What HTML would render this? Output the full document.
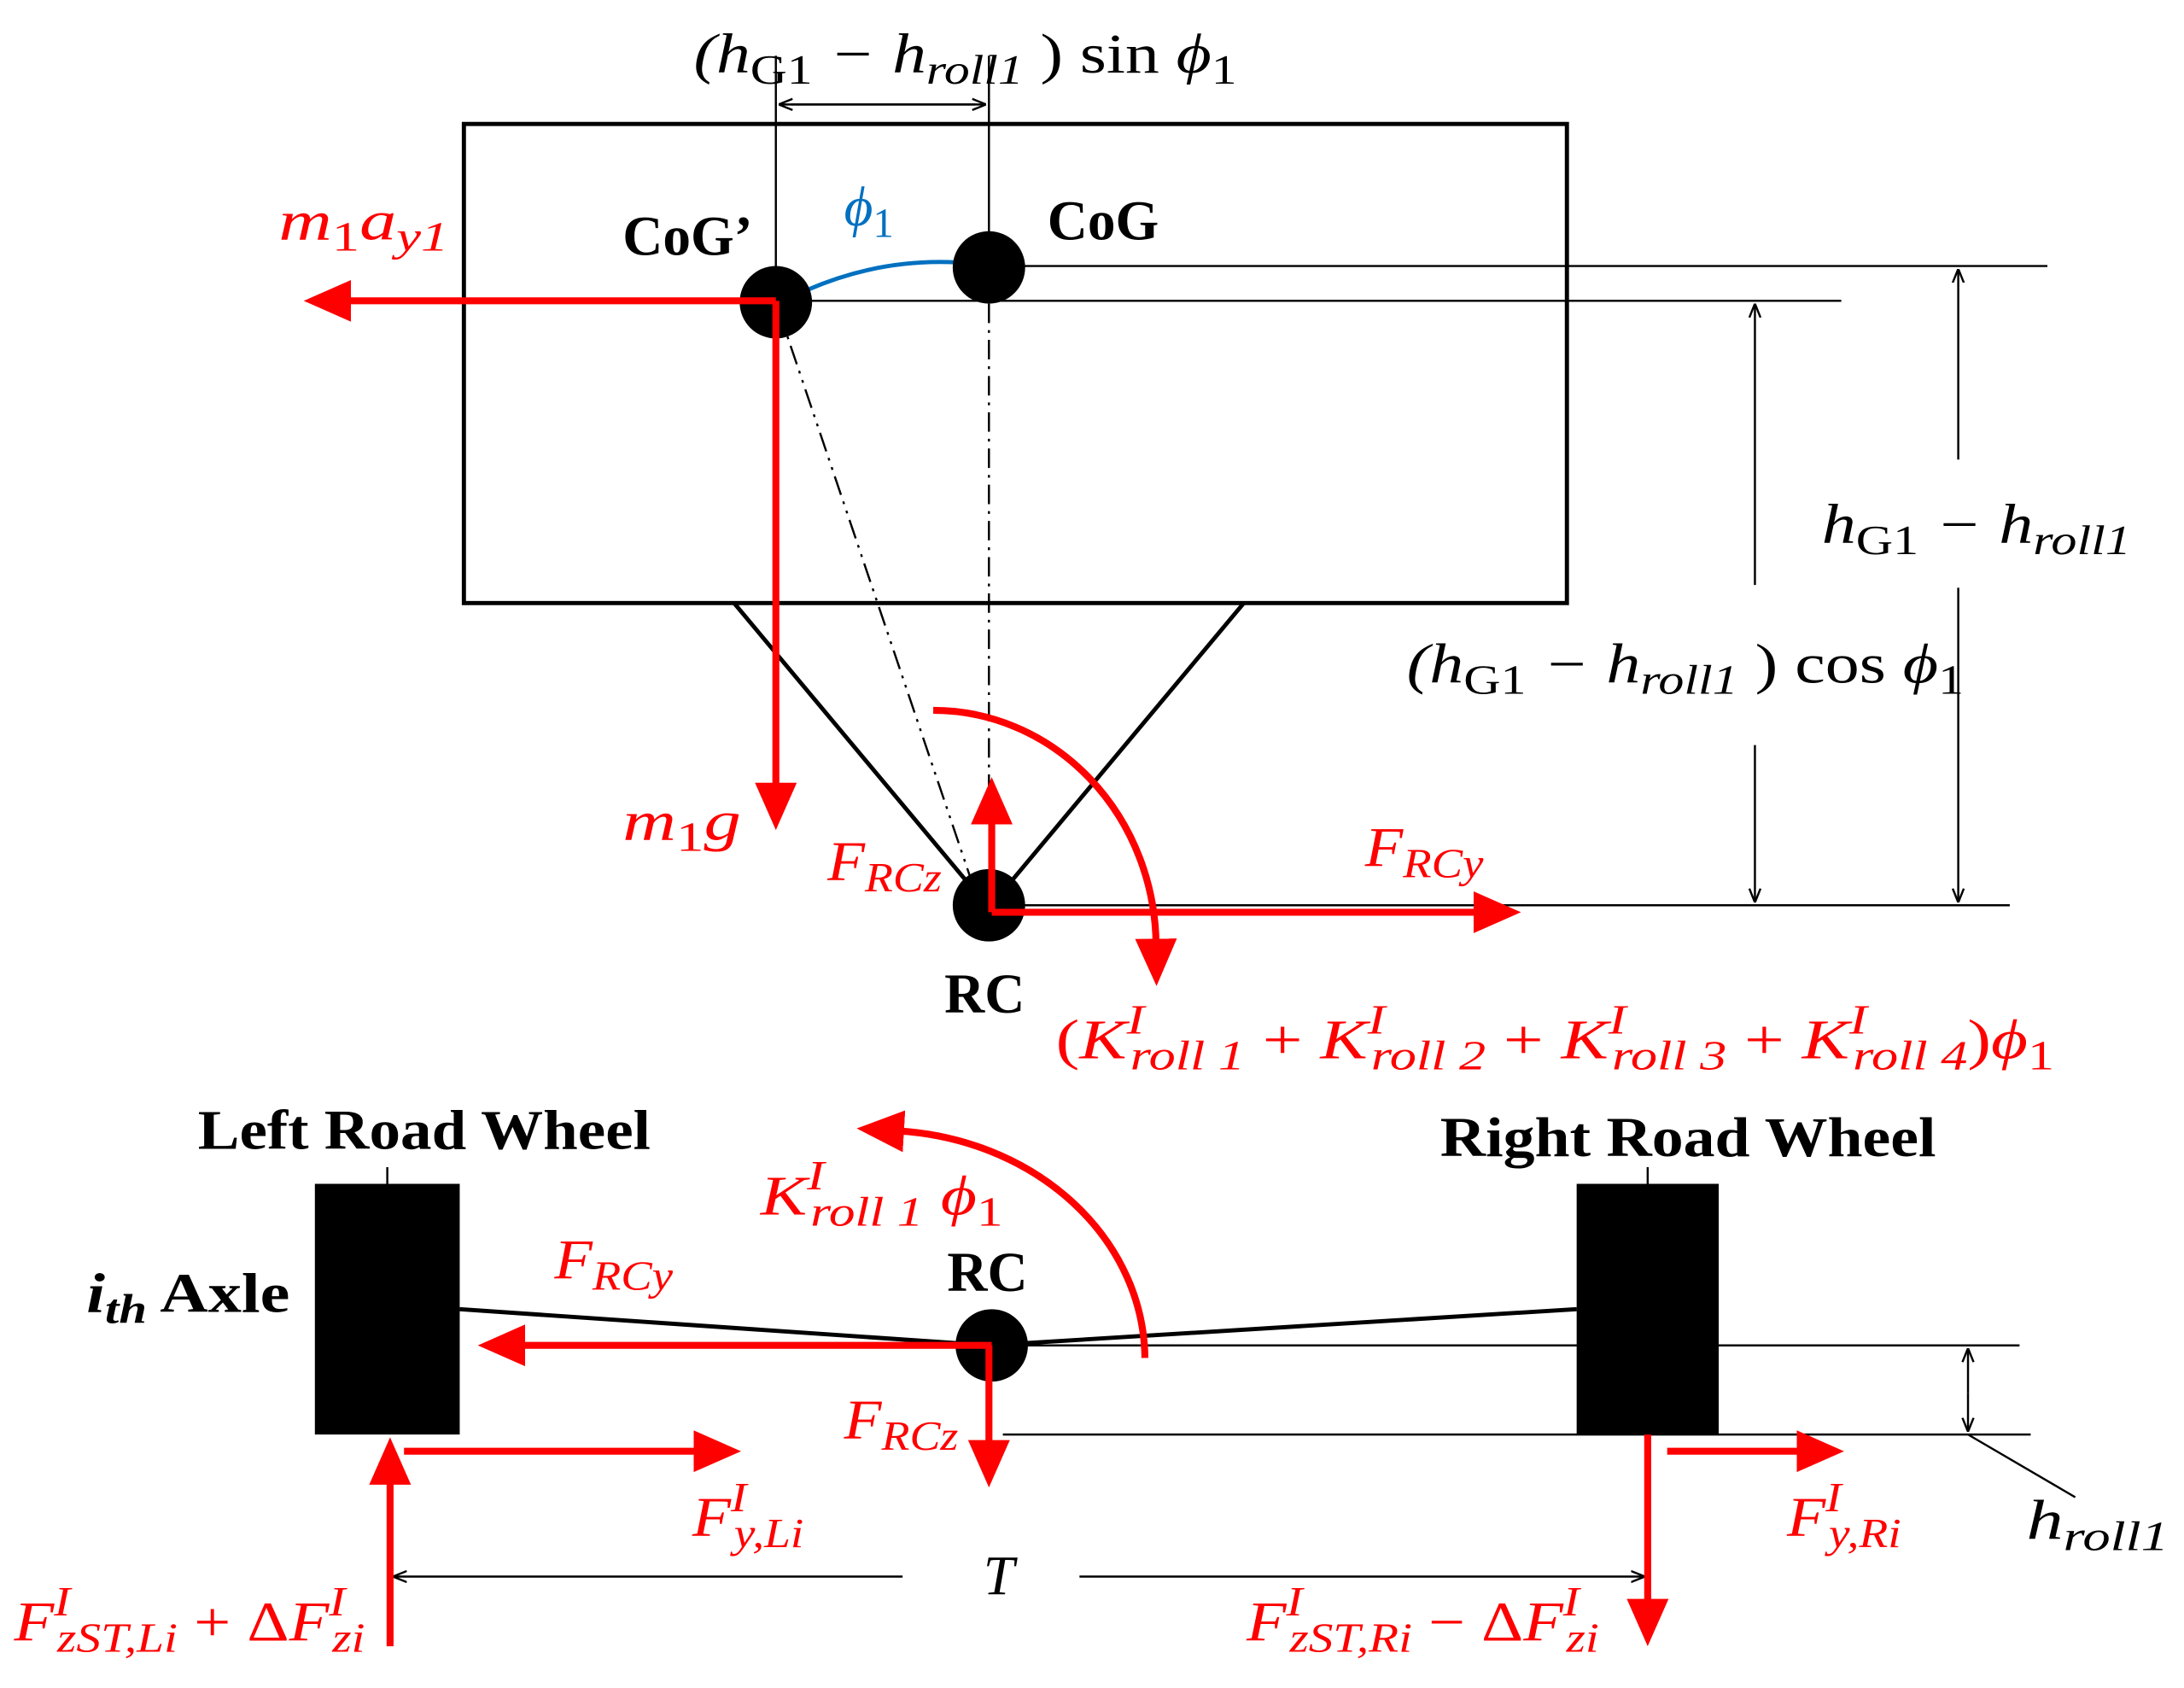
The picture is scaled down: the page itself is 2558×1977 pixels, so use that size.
<!DOCTYPE html>
<html><head><meta charset="utf-8"><style>
html,body{margin:0;padding:0;background:#fff}
svg{display:block}
text{font-family:"Liberation Serif",serif}
.r{fill:#f00;font-style:italic}
.b{font-weight:bold;fill:#000}
</style></head><body>
<svg width="2558" height="1977" viewBox="0 0 1568 1212" xmlns="http://www.w3.org/2000/svg">
<defs>
<marker id="ah" markerWidth="10" markerHeight="10" refX="9" refY="5" orient="auto" markerUnits="userSpaceOnUse"><path d="M0,1 L10,5 L0,9" fill="none" stroke="#000" stroke-width="1.5"/></marker>
<marker id="rh" markerWidth="34" markerHeight="34" refX="4" refY="17" orient="auto" markerUnits="userSpaceOnUse"><path d="M0,2 L34,17 L0,32 Z" fill="#f00"/></marker>
</defs>
<rect x="333" y="89" width="792" height="344" fill="none" stroke="#000" stroke-width="3"/>
<line x1="527" y1="433" x2="700" y2="640" stroke="#000" stroke-width="3"/>
<line x1="893" y1="433" x2="720" y2="640" stroke="#000" stroke-width="3"/>
<g stroke="#000" stroke-width="1.5" fill="none">
<line x1="710" y1="191" x2="1470" y2="191"/>
<line x1="557" y1="216" x2="1322" y2="216"/>
<line x1="710" y1="650" x2="1443" y2="650"/>
<line x1="557" y1="40" x2="557" y2="217"/>
<line x1="710" y1="40" x2="710" y2="192"/>
<path d="M568,75 L707,75" marker-end="url(#ah)"/>
<path d="M700,75 L560,75" marker-end="url(#ah)"/>
<path d="M1260,420 L1260,219" marker-end="url(#ah)"/>
<path d="M1260,535 L1260,647" marker-end="url(#ah)"/>
<path d="M1406,330 L1406,194" marker-end="url(#ah)"/>
<path d="M1406,422 L1406,647" marker-end="url(#ah)"/>
<line x1="557" y1="217" x2="700" y2="640" stroke-dasharray="14,5,2,5,2,5"/>
<line x1="710" y1="192" x2="710" y2="580" stroke-dasharray="14,5,2,5"/>
</g>
<path d="M580,208 Q640,182 705,190" fill="none" stroke="#0070c0" stroke-width="3"/>
<circle cx="710" cy="192" r="26"/>
<circle cx="557" cy="217" r="26"/>
<circle cx="710" cy="650" r="26"/>
<g stroke="#f00" stroke-width="5" fill="none">
<path d="M557,216 L248,216" marker-end="url(#rh)"/>
<path d="M557,216 L557,566" marker-end="url(#rh)"/>
<path d="M712,655 L712,588" marker-end="url(#rh)"/>
<path d="M712,655 L1062,655" marker-end="url(#rh)"/>
<path d="M670,510 A160,170 0 0 1 830,678" marker-end="url(#rh)"/>
</g>
<text x="498" y="52" font-size="40" font-style="italic" textLength="390" lengthAdjust="spacingAndGlyphs">(h<tspan font-size="30" dy="8" font-style="normal">G1</tspan><tspan dy="-8"> − h</tspan><tspan font-size="30" dy="8">roll1</tspan><tspan dy="-8" font-style="normal"> ) sin </tspan>ϕ<tspan font-size="30" dy="8" font-style="normal">1</tspan></text>
<text x="200" y="172" font-size="40" class="r" textLength="122" lengthAdjust="spacingAndGlyphs">m<tspan font-size="30" dy="8" font-style="normal">1</tspan><tspan dy="-8">a</tspan><tspan font-size="30" dy="8">y1</tspan></text>
<text x="447" y="183" font-size="40" class="b">CoG’</text>
<text x="752" y="172" font-size="40" class="b">CoG</text>
<text x="606" y="162" font-size="40" font-style="italic" fill="#0070c0">ϕ<tspan font-size="30" dy="8" font-style="normal">1</tspan></text>
<text x="1308" y="390" font-size="40" font-style="italic" textLength="222" lengthAdjust="spacingAndGlyphs">h<tspan font-size="30" dy="8" font-style="normal">G1</tspan><tspan dy="-8"> − h</tspan><tspan font-size="30" dy="8">roll1</tspan></text>
<text x="1010" y="490" font-size="40" font-style="italic" textLength="400" lengthAdjust="spacingAndGlyphs">(h<tspan font-size="30" dy="8" font-style="normal">G1</tspan><tspan dy="-8"> − h</tspan><tspan font-size="30" dy="8">roll1</tspan><tspan dy="-8" font-style="normal"> ) cos </tspan>ϕ<tspan font-size="30" dy="8" font-style="normal">1</tspan></text>
<text x="447" y="603" font-size="40" class="r" textLength="85" lengthAdjust="spacingAndGlyphs">m<tspan font-size="30" dy="8" font-style="normal">1</tspan><tspan dy="-8">g</tspan></text>
<text x="594" y="632" font-size="40" class="r" textLength="82" lengthAdjust="spacingAndGlyphs">F<tspan font-size="30" dy="8">RCz</tspan></text>
<text x="980" y="622" font-size="40" class="r" textLength="85" lengthAdjust="spacingAndGlyphs">F<tspan font-size="30" dy="8">RCy</tspan></text>
<text x="678" y="727" font-size="40" class="b">RC</text>
<text x="758" y="760" font-size="40" class="r" textLength="717" lengthAdjust="spacingAndGlyphs"><tspan font-style="normal">(</tspan>K<tspan font-size="30" dy="-18">I</tspan><tspan font-size="30" dx="-8" dy="26">roll 1</tspan><tspan dy="-8" font-style="normal"> + </tspan>K<tspan font-size="30" dy="-18">I</tspan><tspan font-size="30" dx="-8" dy="26">roll 2</tspan><tspan dy="-8" font-style="normal"> + </tspan>K<tspan font-size="30" dy="-18">I</tspan><tspan font-size="30" dx="-8" dy="26">roll 3</tspan><tspan dy="-8" font-style="normal"> + </tspan>K<tspan font-size="30" dy="-18">I</tspan><tspan font-size="30" dx="-8" dy="26">roll 4</tspan><tspan dy="-8" font-style="normal">)</tspan>ϕ<tspan font-size="30" dy="8" font-style="normal">1</tspan></text>
<rect x="226" y="850" width="104" height="180"/>
<rect x="1132" y="850" width="102" height="180"/>
<g stroke="#000" stroke-width="1.5" fill="none">
<line x1="278" y1="838" x2="278" y2="850"/>
<line x1="1183" y1="838" x2="1183" y2="850"/>
<line x1="735" y1="966" x2="1450" y2="966"/>
<line x1="720" y1="1030" x2="1458" y2="1030"/>
<path d="M1413,1000 L1413,969" marker-end="url(#ah)"/>
<path d="M1413,1000 L1413,1027" marker-end="url(#ah)"/>
<line x1="1413" y1="1030" x2="1490" y2="1075"/>
<path d="M648,1132 L283,1132" marker-end="url(#ah)"/>
<path d="M775,1132 L1180,1132" marker-end="url(#ah)"/>
</g>
<line x1="330" y1="940" x2="710" y2="966" stroke="#000" stroke-width="3"/>
<line x1="710" y1="966" x2="1132" y2="940" stroke="#000" stroke-width="3"/>
<circle cx="712" cy="966" r="26"/>
<g stroke="#f00" stroke-width="5" fill="none">
<path d="M712,966 L373,966" marker-end="url(#rh)"/>
<path d="M710,966 L710,1038" marker-end="url(#rh)"/>
<path d="M822,975 A190,165 0 0 0 645,812" marker-end="url(#rh)"/>
<path d="M280,1182 L280,1062" marker-end="url(#rh)"/>
<path d="M290,1042 L502,1042" marker-end="url(#rh)"/>
<path d="M1183,1030 L1183,1152" marker-end="url(#rh)"/>
<path d="M1197,1042 L1294,1042" marker-end="url(#rh)"/>
</g>
<text x="142" y="825" font-size="40" class="b" textLength="325" lengthAdjust="spacingAndGlyphs">Left Road Wheel</text>
<text x="1034" y="830" font-size="40" class="b" textLength="356" lengthAdjust="spacingAndGlyphs">Right Road Wheel</text>
<text x="62" y="942" font-size="40" class="b" textLength="146" lengthAdjust="spacingAndGlyphs"><tspan font-style="italic">i</tspan><tspan font-size="30" dy="8" font-style="italic">th</tspan><tspan dy="-8"> Axle</tspan></text>
<text x="680" y="927" font-size="40" class="b">RC</text>
<text x="546" y="872" font-size="40" class="r" textLength="174" lengthAdjust="spacingAndGlyphs">K<tspan font-size="30" dy="-18">I</tspan><tspan font-size="30" dx="-8" dy="26">roll 1</tspan><tspan dy="-8"> ϕ</tspan><tspan font-size="30" dy="8" font-style="normal">1</tspan></text>
<text x="398" y="918" font-size="40" class="r" textLength="85" lengthAdjust="spacingAndGlyphs">F<tspan font-size="30" dy="8">RCy</tspan></text>
<text x="606" y="1033" font-size="40" class="r" textLength="82" lengthAdjust="spacingAndGlyphs">F<tspan font-size="30" dy="8">RCz</tspan></text>
<text x="497" y="1103" font-size="40" class="r" textLength="80" lengthAdjust="spacingAndGlyphs">F<tspan font-size="30" dy="-18">I</tspan><tspan font-size="30" dx="-8" dy="26">y,Li</tspan></text>
<text x="1283" y="1103" font-size="40" class="r" textLength="82" lengthAdjust="spacingAndGlyphs">F<tspan font-size="30" dy="-18">I</tspan><tspan font-size="30" dx="-8" dy="26">y,Ri</tspan></text>
<text x="1455" y="1105" font-size="40" font-style="italic" textLength="102" lengthAdjust="spacingAndGlyphs">h<tspan font-size="30" dy="8">roll1</tspan></text>
<text x="706" y="1145" font-size="40" font-style="italic">T</text>
<text x="10" y="1178" font-size="40" class="r" textLength="252" lengthAdjust="spacingAndGlyphs">F<tspan font-size="30" dy="-18">I</tspan><tspan font-size="30" dx="-8" dy="26">zST,Li</tspan><tspan dy="-8" font-style="normal"> + Δ</tspan>F<tspan font-size="30" dy="-18">I</tspan><tspan font-size="30" dx="-8" dy="26">zi</tspan></text>
<text x="895" y="1178" font-size="40" class="r" textLength="253" lengthAdjust="spacingAndGlyphs">F<tspan font-size="30" dy="-18">I</tspan><tspan font-size="30" dx="-8" dy="26">zST,Ri</tspan><tspan dy="-8" font-style="normal"> − Δ</tspan>F<tspan font-size="30" dy="-18">I</tspan><tspan font-size="30" dx="-8" dy="26">zi</tspan></text>
</svg>
</body></html>
